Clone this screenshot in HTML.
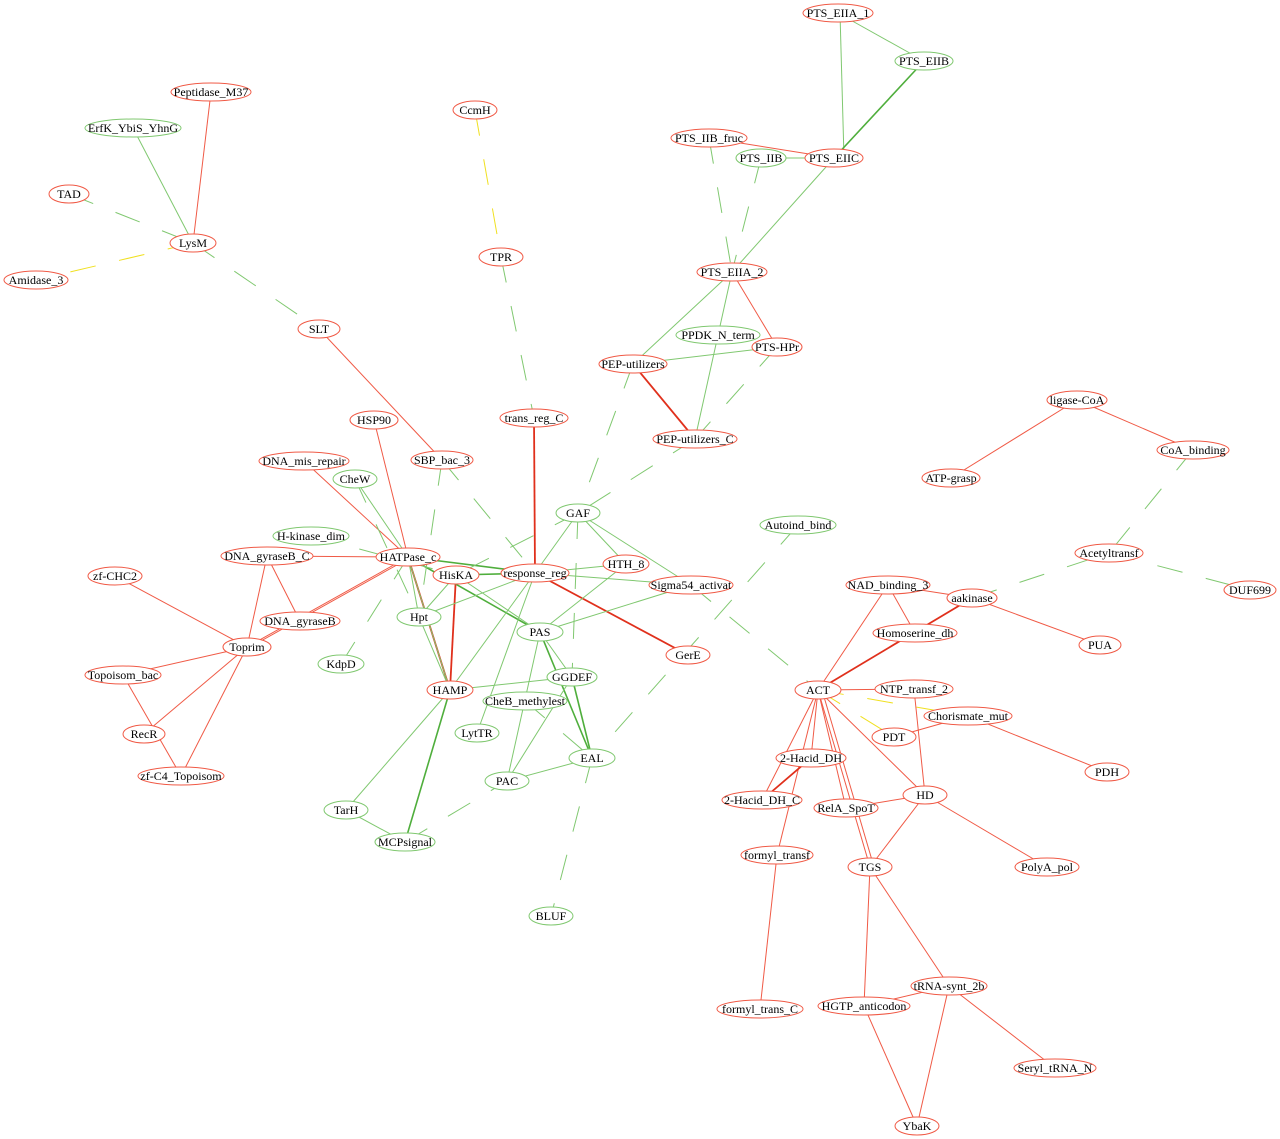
<!DOCTYPE html>
<html><head><meta charset="utf-8"><style>
html,body{margin:0;padding:0;background:#fff}
svg{display:block}
text{font-family:"Liberation Serif",serif;font-size:12px;fill:#000;text-anchor:middle;dominant-baseline:central}
.r{stroke:#f05a46;stroke-width:1;fill:none}
.rt{stroke:#e0301c;stroke-width:1.8;fill:none}
.g{stroke:#80c870;stroke-width:1;fill:none}
.gt{stroke:#4fae3c;stroke-width:1.6;fill:none}
.gd{stroke:#80c870;stroke-width:1;fill:none;stroke-dasharray:26,24}
.yd{stroke:#f0e020;stroke-width:1;fill:none;stroke-dasharray:26,24}
.nr{stroke:#f05a46;stroke-width:1;fill:#fff}
.ng{stroke:#80c870;stroke-width:1;fill:#fff}
</style></head><body>
<svg width="1280" height="1139" viewBox="0 0 1280 1139" xmlns="http://www.w3.org/2000/svg">
<line class="r" x1="709" y1="138" x2="834" y2="158"/>
<line class="r" x1="211" y1="92" x2="193" y2="243"/>
<line class="r" x1="319" y1="329" x2="442" y2="460"/>
<line class="r" x1="732" y1="272" x2="777" y2="347"/>
<line class="rt" x1="633" y1="364" x2="695" y2="439"/>
<line class="rt" x1="534" y1="418" x2="535" y2="573"/>
<line class="r" x1="374" y1="420" x2="408" y2="557"/>
<line class="r" x1="304" y1="461" x2="408" y2="557"/>
<line class="r" x1="267" y1="556" x2="408" y2="557"/>
<line class="r" x1="267" y1="556" x2="300" y2="621"/>
<line class="r" x1="267" y1="556" x2="247" y2="647"/>
<line class="r" x1="408" y1="557" x2="247" y2="647"/>
<line class="r" x1="404" y1="561" x2="243" y2="651"/>
<line class="rt" x1="408" y1="557" x2="450" y2="690"/>
<line class="rt" x1="456" y1="575" x2="450" y2="690"/>
<line class="rt" x1="535" y1="573" x2="688" y2="655"/>
<line class="r" x1="115" y1="576" x2="247" y2="647"/>
<line class="r" x1="247" y1="647" x2="123" y2="675"/>
<line class="r" x1="247" y1="647" x2="144" y2="734"/>
<line class="r" x1="247" y1="647" x2="181" y2="776"/>
<line class="r" x1="123" y1="675" x2="181" y2="776"/>
<line class="r" x1="1077" y1="400" x2="951" y2="478"/>
<line class="r" x1="1077" y1="400" x2="1193" y2="450"/>
<line class="r" x1="888" y1="585" x2="972" y2="598"/>
<line class="r" x1="888" y1="585" x2="915" y2="633"/>
<line class="r" x1="888" y1="585" x2="818" y2="690"/>
<line class="rt" x1="972" y1="598" x2="818" y2="690"/>
<line class="r" x1="972" y1="598" x2="1100" y2="645"/>
<line class="r" x1="818" y1="690" x2="914" y2="689"/>
<line class="r" x1="818" y1="690" x2="811" y2="758"/>
<line class="r" x1="818" y1="690" x2="762" y2="800"/>
<line class="r" x1="818" y1="690" x2="846" y2="808"/>
<line class="r" x1="818" y1="690" x2="870" y2="867"/>
<line class="r" x1="822" y1="690" x2="874" y2="867"/>
<line class="r" x1="818" y1="690" x2="925" y2="795"/>
<line class="r" x1="818" y1="690" x2="777" y2="855"/>
<line class="r" x1="914" y1="689" x2="925" y2="795"/>
<line class="r" x1="968" y1="716" x2="894" y2="737"/>
<line class="r" x1="968" y1="716" x2="1107" y2="772"/>
<line class="rt" x1="811" y1="758" x2="762" y2="800"/>
<line class="r" x1="925" y1="795" x2="846" y2="808"/>
<line class="r" x1="925" y1="795" x2="870" y2="867"/>
<line class="r" x1="925" y1="795" x2="1047" y2="867"/>
<line class="r" x1="777" y1="855" x2="760" y2="1009"/>
<line class="r" x1="870" y1="867" x2="864" y2="1006"/>
<line class="r" x1="870" y1="867" x2="949" y2="986"/>
<line class="r" x1="949" y1="986" x2="864" y2="1006"/>
<line class="r" x1="949" y1="986" x2="1055" y2="1068"/>
<line class="r" x1="949" y1="986" x2="917" y2="1126"/>
<line class="r" x1="864" y1="1006" x2="917" y2="1126"/>
<line class="g" x1="838" y1="13" x2="924" y2="61"/>
<line class="g" x1="840" y1="13" x2="844" y2="158"/>
<line class="gt" x1="924" y1="61" x2="834" y2="158"/>
<line class="g" x1="761" y1="158" x2="834" y2="158"/>
<line class="g" x1="834" y1="158" x2="732" y2="272"/>
<line class="g" x1="133" y1="128" x2="193" y2="243"/>
<line class="g" x1="732" y1="272" x2="633" y2="364"/>
<line class="g" x1="732" y1="272" x2="695" y2="439"/>
<line class="g" x1="633" y1="364" x2="777" y2="347"/>
<line class="g" x1="578" y1="513" x2="535" y2="573"/>
<line class="g" x1="578" y1="513" x2="691" y2="585"/>
<line class="g" x1="578" y1="513" x2="626" y2="564"/>
<line class="gt" x1="408" y1="557" x2="535" y2="573"/>
<line class="gt" x1="408" y1="557" x2="540" y2="632"/>
<line class="gt" x1="456" y1="575" x2="535" y2="573"/>
<line class="g" x1="456" y1="575" x2="540" y2="632"/>
<line class="g" x1="456" y1="575" x2="419" y2="617"/>
<line class="g" x1="408" y1="557" x2="419" y2="617"/>
<line class="g" x1="408" y1="557" x2="450" y2="690"/>
<line class="g" x1="535" y1="573" x2="419" y2="617"/>
<line class="g" x1="535" y1="573" x2="626" y2="564"/>
<line class="g" x1="535" y1="573" x2="691" y2="585"/>
<line class="g" x1="535" y1="573" x2="450" y2="690"/>
<line class="g" x1="535" y1="573" x2="477" y2="733"/>
<line class="g" x1="626" y1="564" x2="540" y2="632"/>
<line class="g" x1="691" y1="585" x2="540" y2="632"/>
<line class="g" x1="540" y1="632" x2="572" y2="677"/>
<line class="gt" x1="540" y1="632" x2="592" y2="758"/>
<line class="g" x1="540" y1="632" x2="507" y2="781"/>
<line class="gt" x1="572" y1="677" x2="592" y2="758"/>
<line class="g" x1="572" y1="677" x2="507" y2="781"/>
<line class="g" x1="572" y1="677" x2="450" y2="690"/>
<line class="g" x1="592" y1="758" x2="507" y2="781"/>
<line class="g" x1="450" y1="690" x2="346" y2="810"/>
<line class="gt" x1="450" y1="690" x2="405" y2="842"/>
<line class="g" x1="346" y1="810" x2="405" y2="842"/>
<line class="g" x1="355" y1="479" x2="408" y2="557"/>
<line class="g" x1="419" y1="617" x2="450" y2="690"/>
<line class="gd" x1="69" y1="194" x2="193" y2="243"/>
<line class="gd" x1="193" y1="243" x2="319" y2="329"/>
<line class="gd" x1="501" y1="257" x2="534" y2="418"/>
<line class="gd" x1="709" y1="138" x2="732" y2="272"/>
<line class="gd" x1="761" y1="158" x2="732" y2="272"/>
<line class="gd" x1="633" y1="364" x2="578" y2="513"/>
<line class="gd" x1="777" y1="347" x2="695" y2="439"/>
<line class="gd" x1="695" y1="439" x2="578" y2="513"/>
<line class="gd" x1="578" y1="513" x2="456" y2="575"/>
<line class="gd" x1="442" y1="460" x2="535" y2="573"/>
<line class="gd" x1="442" y1="460" x2="419" y2="617"/>
<line class="gd" x1="355" y1="479" x2="419" y2="617"/>
<line class="gd" x1="311" y1="536" x2="456" y2="575"/>
<line class="gd" x1="341" y1="664" x2="408" y2="557"/>
<line class="gd" x1="798" y1="525" x2="592" y2="758"/>
<line class="gd" x1="691" y1="585" x2="818" y2="690"/>
<line class="gd" x1="972" y1="598" x2="1109" y2="553"/>
<line class="gd" x1="1193" y1="450" x2="1109" y2="553"/>
<line class="gd" x1="1109" y1="553" x2="1250" y2="590"/>
<line class="gd" x1="592" y1="758" x2="551" y2="916"/>
<line class="gd" x1="405" y1="842" x2="507" y2="781"/>
<line class="gd" x1="578" y1="513" x2="572" y2="677"/>
<line class="gd" x1="525" y1="701" x2="592" y2="758"/>
<line class="yd" x1="475" y1="110" x2="501" y2="257"/>
<line class="yd" x1="193" y1="243" x2="36" y2="280"/>
<line class="yd" x1="818" y1="690" x2="894" y2="737"/>
<line class="yd" x1="818" y1="690" x2="968" y2="716"/>
<g>
<ellipse class="nr" cx="838" cy="13" rx="35" ry="9"/><text x="838" y="13">PTS_EIIA_1</text>
<ellipse class="ng" cx="924" cy="61" rx="29" ry="9"/><text x="924" y="61">PTS_EIIB</text>
<ellipse class="nr" cx="709" cy="138" rx="38" ry="9"/><text x="709" y="138">PTS_IIB_fruc</text>
<ellipse class="ng" cx="761" cy="158" rx="25" ry="9"/><text x="761" y="158">PTS_IIB</text>
<ellipse class="nr" cx="834" cy="158" rx="29" ry="9"/><text x="834" y="158">PTS_EIIC</text>
<ellipse class="nr" cx="211" cy="92" rx="40" ry="9"/><text x="211" y="92">Peptidase_M37</text>
<ellipse class="ng" cx="133" cy="128" rx="48" ry="9"/><text x="133" y="128">ErfK_YbiS_YhnG</text>
<ellipse class="nr" cx="475" cy="110" rx="22" ry="9"/><text x="475" y="110">CcmH</text>
<ellipse class="nr" cx="69" cy="194" rx="20" ry="9"/><text x="69" y="194">TAD</text>
<ellipse class="nr" cx="193" cy="243" rx="23" ry="9"/><text x="193" y="243">LysM</text>
<ellipse class="nr" cx="36" cy="280" rx="32" ry="9"/><text x="36" y="280">Amidase_3</text>
<ellipse class="nr" cx="501" cy="257" rx="22" ry="9"/><text x="501" y="257">TPR</text>
<ellipse class="nr" cx="732" cy="272" rx="35" ry="9"/><text x="732" y="272">PTS_EIIA_2</text>
<ellipse class="nr" cx="319" cy="329" rx="21" ry="9"/><text x="319" y="329">SLT</text>
<ellipse class="ng" cx="718" cy="335" rx="42" ry="9"/><text x="718" y="335">PPDK_N_term</text>
<ellipse class="nr" cx="777" cy="347" rx="25" ry="9"/><text x="777" y="347">PTS-HPr</text>
<ellipse class="nr" cx="633" cy="364" rx="34" ry="9"/><text x="633" y="364">PEP-utilizers</text>
<ellipse class="nr" cx="1077" cy="400" rx="30" ry="9"/><text x="1077" y="400">ligase-CoA</text>
<ellipse class="nr" cx="374" cy="420" rx="24" ry="9"/><text x="374" y="420">HSP90</text>
<ellipse class="nr" cx="534" cy="418" rx="34" ry="9"/><text x="534" y="418">trans_reg_C</text>
<ellipse class="nr" cx="695" cy="439" rx="42" ry="9"/><text x="695" y="439">PEP-utilizers_C</text>
<ellipse class="nr" cx="1193" cy="450" rx="36" ry="9"/><text x="1193" y="450">CoA_binding</text>
<ellipse class="nr" cx="304" cy="461" rx="45" ry="9"/><text x="304" y="461">DNA_mis_repair</text>
<ellipse class="nr" cx="442" cy="460" rx="31" ry="9"/><text x="442" y="460">SBP_bac_3</text>
<ellipse class="nr" cx="951" cy="478" rx="29" ry="9"/><text x="951" y="478">ATP-grasp</text>
<ellipse class="ng" cx="355" cy="479" rx="22" ry="9"/><text x="355" y="479">CheW</text>
<ellipse class="ng" cx="578" cy="513" rx="22" ry="9"/><text x="578" y="513">GAF</text>
<ellipse class="ng" cx="798" cy="525" rx="38" ry="9"/><text x="798" y="525">Autoind_bind</text>
<ellipse class="ng" cx="311" cy="536" rx="38" ry="9"/><text x="311" y="536">H-kinase_dim</text>
<ellipse class="nr" cx="1109" cy="553" rx="34" ry="9"/><text x="1109" y="553">Acetyltransf</text>
<ellipse class="nr" cx="267" cy="556" rx="46" ry="9"/><text x="267" y="556">DNA_gyraseB_C</text>
<ellipse class="nr" cx="408" cy="557" rx="32" ry="9"/><text x="408" y="557">HATPase_c</text>
<ellipse class="nr" cx="626" cy="564" rx="23" ry="9"/><text x="626" y="564">HTH_8</text>
<ellipse class="nr" cx="456" cy="575" rx="23" ry="9"/><text x="456" y="575">HisKA</text>
<ellipse class="nr" cx="535" cy="573" rx="34" ry="9"/><text x="535" y="573">response_reg</text>
<ellipse class="nr" cx="691" cy="585" rx="42" ry="9"/><text x="691" y="585">Sigma54_activat</text>
<ellipse class="nr" cx="888" cy="585" rx="42" ry="9"/><text x="888" y="585">NAD_binding_3</text>
<ellipse class="nr" cx="115" cy="576" rx="27" ry="9"/><text x="115" y="576">zf-CHC2</text>
<ellipse class="nr" cx="972" cy="598" rx="25" ry="9"/><text x="972" y="598">aakinase</text>
<ellipse class="nr" cx="1250" cy="590" rx="26" ry="9"/><text x="1250" y="590">DUF699</text>
<ellipse class="ng" cx="419" cy="617" rx="22" ry="9"/><text x="419" y="617">Hpt</text>
<ellipse class="nr" cx="300" cy="621" rx="40" ry="9"/><text x="300" y="621">DNA_gyraseB</text>
<ellipse class="nr" cx="247" cy="647" rx="24" ry="9"/><text x="247" y="647">Toprim</text>
<ellipse class="ng" cx="540" cy="632" rx="23" ry="9"/><text x="540" y="632">PAS</text>
<ellipse class="nr" cx="915" cy="633" rx="42" ry="9"/><text x="915" y="633">Homoserine_dh</text>
<ellipse class="ng" cx="341" cy="664" rx="23" ry="9"/><text x="341" y="664">KdpD</text>
<ellipse class="nr" cx="688" cy="655" rx="22" ry="9"/><text x="688" y="655">GerE</text>
<ellipse class="nr" cx="1100" cy="645" rx="21" ry="9"/><text x="1100" y="645">PUA</text>
<ellipse class="nr" cx="123" cy="675" rx="38" ry="9"/><text x="123" y="675">Topoisom_bac</text>
<ellipse class="ng" cx="572" cy="677" rx="25" ry="9"/><text x="572" y="677">GGDEF</text>
<ellipse class="nr" cx="818" cy="690" rx="23" ry="9"/><text x="818" y="690">ACT</text>
<ellipse class="nr" cx="914" cy="689" rx="39" ry="9"/><text x="914" y="689">NTP_transf_2</text>
<ellipse class="nr" cx="450" cy="690" rx="23" ry="9"/><text x="450" y="690">HAMP</text>
<ellipse class="ng" cx="525" cy="701" rx="42" ry="9"/><text x="525" y="701">CheB_methylest</text>
<ellipse class="nr" cx="968" cy="716" rx="44" ry="9"/><text x="968" y="716">Chorismate_mut</text>
<ellipse class="ng" cx="477" cy="733" rx="22" ry="9"/><text x="477" y="733">LytTR</text>
<ellipse class="nr" cx="894" cy="737" rx="22" ry="9"/><text x="894" y="737">PDT</text>
<ellipse class="nr" cx="144" cy="734" rx="21" ry="9"/><text x="144" y="734">RecR</text>
<ellipse class="nr" cx="811" cy="758" rx="35" ry="9"/><text x="811" y="758">2-Hacid_DH</text>
<ellipse class="ng" cx="592" cy="758" rx="23" ry="9"/><text x="592" y="758">EAL</text>
<ellipse class="nr" cx="1107" cy="772" rx="22" ry="9"/><text x="1107" y="772">PDH</text>
<ellipse class="nr" cx="181" cy="776" rx="43" ry="9"/><text x="181" y="776">zf-C4_Topoisom</text>
<ellipse class="ng" cx="507" cy="781" rx="22" ry="9"/><text x="507" y="781">PAC</text>
<ellipse class="nr" cx="925" cy="795" rx="22" ry="9"/><text x="925" y="795">HD</text>
<ellipse class="nr" cx="762" cy="800" rx="40" ry="9"/><text x="762" y="800">2-Hacid_DH_C</text>
<ellipse class="nr" cx="846" cy="808" rx="32" ry="9"/><text x="846" y="808">RelA_SpoT</text>
<ellipse class="ng" cx="346" cy="810" rx="22" ry="9"/><text x="346" y="810">TarH</text>
<ellipse class="ng" cx="405" cy="842" rx="30" ry="9"/><text x="405" y="842">MCPsignal</text>
<ellipse class="nr" cx="777" cy="855" rx="36" ry="9"/><text x="777" y="855">formyl_transf</text>
<ellipse class="nr" cx="870" cy="867" rx="22" ry="9"/><text x="870" y="867">TGS</text>
<ellipse class="nr" cx="1047" cy="867" rx="32" ry="9"/><text x="1047" y="867">PolyA_pol</text>
<ellipse class="ng" cx="551" cy="916" rx="22" ry="9"/><text x="551" y="916">BLUF</text>
<ellipse class="nr" cx="949" cy="986" rx="38" ry="9"/><text x="949" y="986">tRNA-synt_2b</text>
<ellipse class="nr" cx="864" cy="1006" rx="46" ry="9"/><text x="864" y="1006">HGTP_anticodon</text>
<ellipse class="nr" cx="760" cy="1009" rx="43" ry="9"/><text x="760" y="1009">formyl_trans_C</text>
<ellipse class="nr" cx="1055" cy="1068" rx="41" ry="9"/><text x="1055" y="1068">Seryl_tRNA_N</text>
<ellipse class="nr" cx="917" cy="1126" rx="22" ry="9"/><text x="917" y="1126">YbaK</text>
</g>
</svg>
</body></html>
